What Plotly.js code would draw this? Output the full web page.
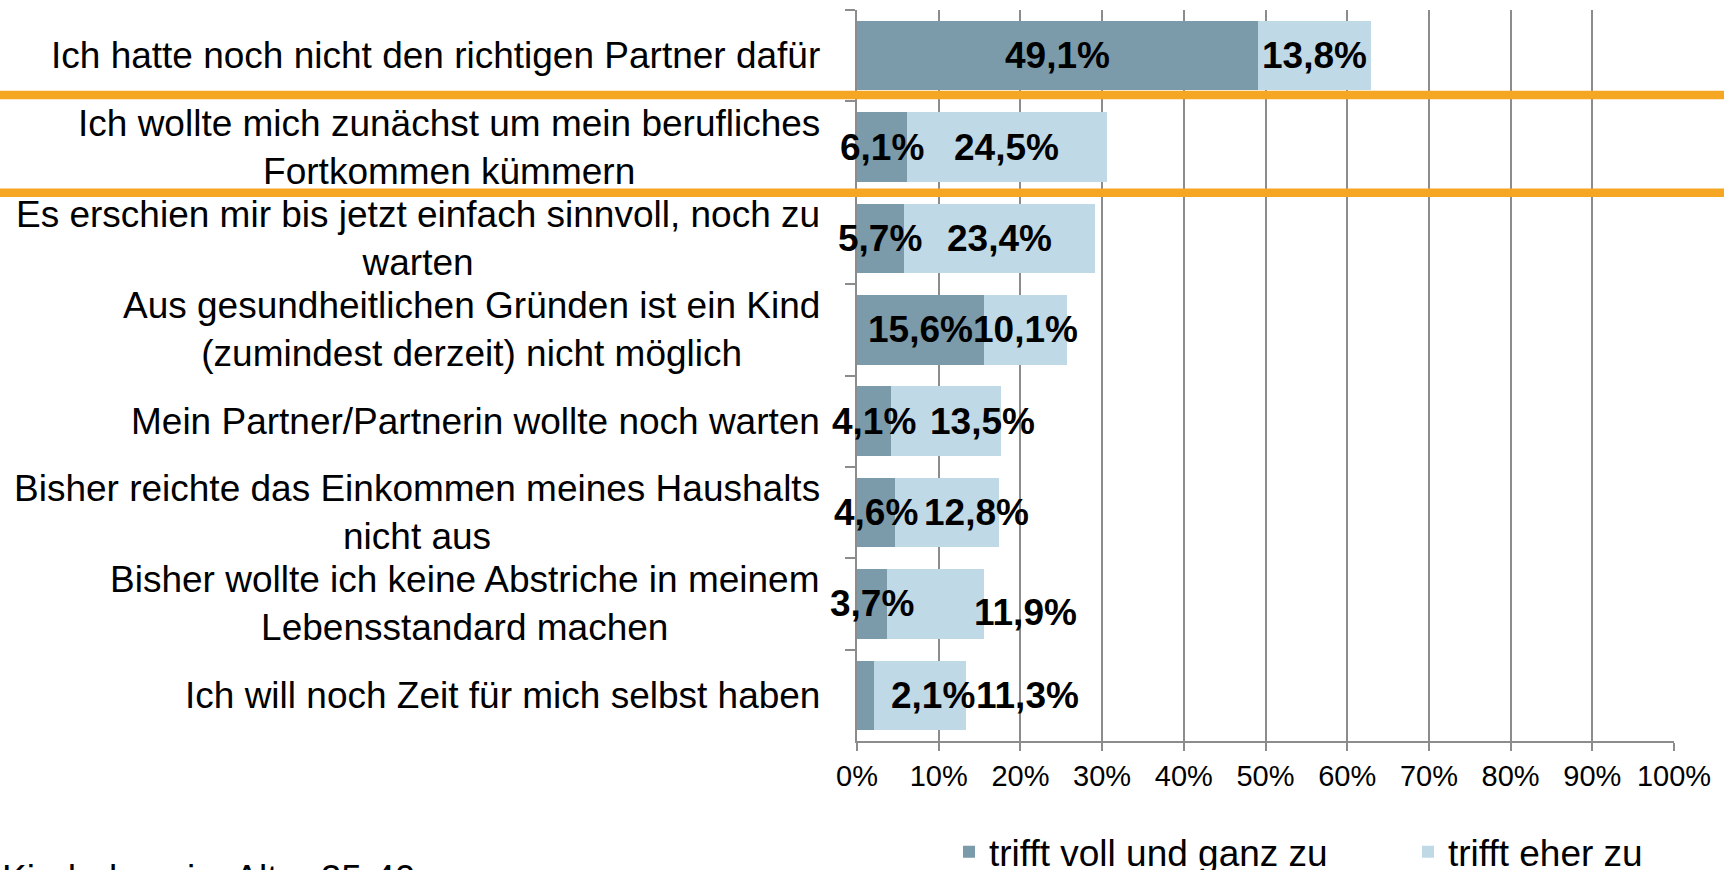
<!DOCTYPE html>
<html><head><meta charset="utf-8">
<script src="https://cdn.plot.ly/plotly-3.0.1.min.js"></script>
<style>html,body{margin:0;padding:0;background:#fff;}#chart{width:1724px;height:870px;}</style>
</head><body><div id="chart"></div>
<script>
// ---- data ----
const categories = [
  'Ich hatte noch nicht den richtigen Partner dafür',
  'Ich wollte mich zunächst um mein berufliches<br>Fortkommen kümmern',
  'Es erschien mir bis jetzt einfach sinnvoll, noch zu<br>warten',
  'Aus gesundheitlichen Gründen ist ein Kind<br>(zumindest derzeit) nicht möglich',
  'Mein Partner/Partnerin wollte noch warten',
  'Bisher reichte das Einkommen meines Haushalts<br>nicht aus',
  'Bisher wollte ich keine Abstriche in meinem<br>Lebensstandard machen',
  'Ich will noch Zeit für mich selbst haben'
];
const seriesNames = ['trifft voll und ganz zu', 'trifft eher zu'];
const fullyAgree  = [49.1, 6.1, 5.7, 15.6, 4.1, 4.6, 3.7, 2.1];
const ratherAgree = [13.8, 24.5, 23.4, 10.1, 13.5, 12.8, 11.9, 11.3];
const xTickVals = [0, 10, 20, 30, 40, 50, 60, 70, 80, 90, 100];
const xTickText = ['0%', '10%', '20%', '30%', '40%', '50%', '60%', '70%', '80%', '90%', '100%'];
const footnote = 'Kinderlose im Alter 25-40';

// ---- styling ----
const FONT = 'Liberation Sans, Arial, Helvetica, sans-serif';
const darkColor = '#7B9AAA';
const lightColor = '#C0D9E6';
const gridColor = '#8C8C8C';
const orange = '#F5A623';
// manual label offsets (px) mimicking moved labels in the original
const darkShiftX  = [0, 0, 0, 0, 0, 0, 0, 67];
const lightShiftX = [0, 0, 0, 0, 37, 30, 90, 107];
const lightShiftY = [0, 0, 0, 0, 0, 0, -9, 0];

const fmt = v => v.toFixed(1).replace('.', ',') + '%';

const traces = [
  {type: 'bar', orientation: 'h', name: seriesNames[0], y: categories, x: fullyAgree,
   marker: {color: darkColor, line: {width: 0}}, legend: 'legend'},
  {type: 'bar', orientation: 'h', name: seriesNames[1], y: categories, x: ratherAgree,
   marker: {color: lightColor, line: {width: 0}}, legend: 'legend2'}
];

const annotations = [];
categories.forEach((c, i) => {
  annotations.push({xref: 'paper', yref: 'y', x: -0.043, y: c, text: c, showarrow: false,
    xanchor: 'right', yanchor: 'middle', align: 'center',
    font: {family: FONT, size: 37, color: '#000'}});
  annotations.push({xref: 'x', yref: 'y', x: fullyAgree[i] / 2, y: c, text: '<b>' + fmt(fullyAgree[i]) + '</b>',
    showarrow: false, xanchor: 'center', yanchor: 'middle', xshift: darkShiftX[i],
    font: {family: FONT, size: 37, color: '#000'}});
  annotations.push({xref: 'x', yref: 'y', x: fullyAgree[i] + ratherAgree[i] / 2, y: c,
    text: '<b>' + fmt(ratherAgree[i]) + '</b>', showarrow: false, xanchor: 'center', yanchor: 'middle',
    xshift: lightShiftX[i], yshift: lightShiftY[i],
    font: {family: FONT, size: 37, color: '#000'}});
});
annotations.push({xref: 'paper', yref: 'paper', x: -1.049, y: -0.157, text: footnote, showarrow: false,
  xanchor: 'left', yanchor: 'top', font: {family: FONT, size: 37, color: '#000'}});

const legendCommon = {orientation: 'h', xref: 'container', yref: 'container', xanchor: 'left',
  yanchor: 'top', y: 0.056, font: {family: FONT, size: 37, color: '#000'}, bgcolor: 'rgba(0,0,0,0)'};

const layout = {
  width: 1724, height: 870,
  margin: {l: 857, r: 50, t: 10, b: 129, pad: 0},
  paper_bgcolor: '#fff', plot_bgcolor: '#fff',
  barmode: 'stack', bargap: 0.24,
  font: {family: FONT, color: '#000'},
  xaxis: {range: [0, 100], tickvals: xTickVals, ticktext: xTickText,
    showgrid: true, gridcolor: gridColor, gridwidth: 2,
    showline: true, linecolor: gridColor, linewidth: 2,
    ticks: 'outside', ticklen: 8, tickwidth: 2, tickcolor: gridColor,
    tickfont: {family: FONT, size: 29, color: '#000'}, zeroline: false, fixedrange: true},
  yaxis: {autorange: 'reversed', showticklabels: false, showgrid: false, zeroline: false,
    showline: true, linecolor: gridColor, linewidth: 2,
    ticks: 'outside', tickson: 'boundaries', ticklen: 10, tickwidth: 2, tickcolor: gridColor, fixedrange: true},
  showlegend: true,
  legend: Object.assign({}, legendCommon, {x: 949 / 1724}),
  legend2: Object.assign({}, legendCommon, {x: 1408 / 1724}),
  shapes: [
    {type: 'line', xref: 'paper', yref: 'y', x0: -1.05, x1: 1.07, y0: 0.43, y1: 0.43,
     line: {color: orange, width: 8.5}, layer: 'above'},
    {type: 'line', xref: 'paper', yref: 'y', x0: -1.05, x1: 1.07, y0: 1.5, y1: 1.5,
     line: {color: orange, width: 8.5}, layer: 'above'}
  ],
  annotations: annotations
};

Plotly.newPlot('chart', traces, layout, {displayModeBar: false, staticPlot: true});
</script>
</body></html>
